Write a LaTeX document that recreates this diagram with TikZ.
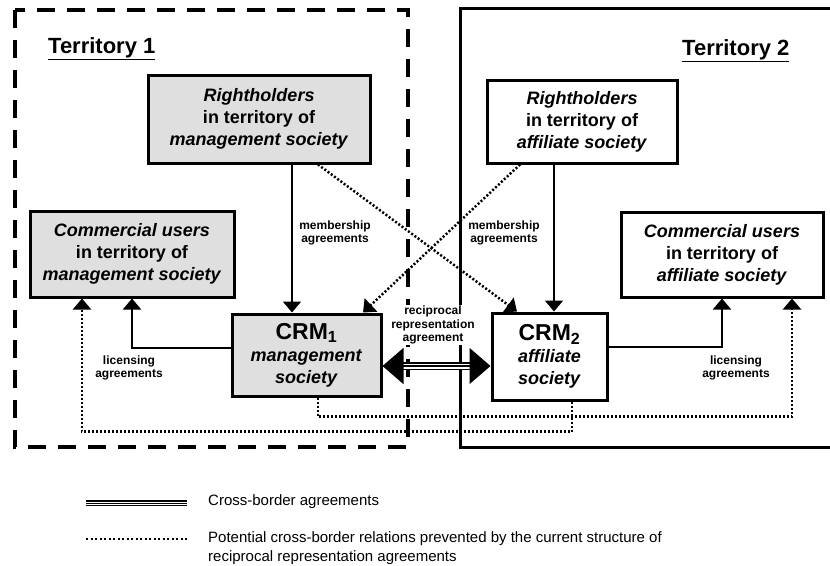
\documentclass[tikz,border=0pt]{standalone}
\usepackage{fontspec}
\setmainfont{Liberation Sans}
\usetikzlibrary{arrows.meta}

\begin{document}
\begin{tikzpicture}[
            x=1pt, y=-1pt,
            main node/.style={draw, line width=3pt, align=center, inner sep=0pt,
                font=\bfseries\fontsize{18}{22}\selectfont},
            gray node/.style={main node, fill=gray!25},
            label node/.style={align=center, inner sep=1pt,
                font=\bfseries\fontsize{12}{13.5}\selectfont},
            territory/.style={anchor=base west, inner sep=0pt,
                font=\bfseries\fontsize{22}{26}\selectfont},
            legend text/.style={anchor=base west, align=left, inner sep=0pt,
                font=\fontsize{15}{19}\selectfont},
            arrow line/.style={line width=2pt, -{Triangle[length=11pt,width=18pt]}},
            dot line/.style={line width=2.5pt, dash pattern=on 2pt off 2pt,
                -{Triangle[length=11pt,width=18pt]}},
            border line/.style={double, double distance=5pt, line width=1.2pt},
            ]
            \useasboundingbox (0,0) rectangle (830,565);

            % territories
            \draw[line width=3.5pt, dash pattern=on 18pt off 12pt] (15,10) rectangle (408,447);
            \draw[line width=3pt] (840,8) -- (460,8) -- (460,447) -- (840,447);
            \node[territory] (t1) at (48,53) {\underline{Territory 1}};
            \node[territory] (t2) at (682,55) {\underline{Territory 2}};

            % boxes
            \node[gray node, minimum width=222, minimum height=88] (rh1) at (259,119)
                {\textit{Rightholders}\\ in territory of\\ \textit{management society}};
            \node[main node, minimum width=190, minimum height=83] (rh2) at (582,121.5)
                {\textit{Rightholders}\\ in territory of\\ \textit{affiliate society}};
            \node[gray node, minimum width=204, minimum height=86] (cu1) at (132,254)
                {\textit{Commercial users}\\ in territory of\\ \textit{management society}};
            \node[main node, minimum width=202, minimum height=85] (cu2) at (722,254.5)
                {\textit{Commercial users}\\ in territory of\\ \textit{affiliate society}};
            \node[gray node, minimum width=149, minimum height=82] (crm1) at (306.5,355)
                {{\fontsize{23}{26}\selectfont CRM\textsubscript{1}}\\ \textit{management}\\ \textit{society}};
            \node[main node, minimum width=115, minimum height=87] (crm2) at (549.5,356.5)
                {{\fontsize{23}{26}\selectfont CRM\textsubscript{2}}\\ \textit{affiliate}\\ \textit{society}};

            % membership
            \coordinate (m1) at (292,0);
            \coordinate (m2) at (554,0);
            \draw[arrow line] (m1 |- rh1.south) -- (m1 |- crm1.north);
            \draw[arrow line] (m2 |- rh2.south) -- (m2 |- crm2.north);
            \node[label node] (mem1) at (335,233) {membership\\ agreements};
            \node[label node] (mem2) at (504,233) {membership\\ agreements};

            % licensing
            \draw[arrow line] ([yshift=7pt]crm1.west) -| (cu1.south);
            \draw[arrow line] ([yshift=9.5pt]crm2.east) -| (cu2.south);
            \node[label node] (lic1) at (129,368) {licensing\\ agreements};
            \node[label node] (lic2) at (736,368) {licensing\\ agreements};

            % prevented relations
            \draw[dot line] ([xshift=59pt]rh1.south) -- ([xshift=-32.5pt]crm2.north);
            \draw[dot line] ([xshift=-62pt]rh2.south) -- ([xshift=56.5pt]crm1.north);
            \draw[dot line] ([xshift=11.5pt]crm1.south) -- ++(0,19) -| ([xshift=70pt]cu2.south);
            \draw[dot line] ([xshift=22.5pt]crm2.south) -- ++(0,30) -| ([xshift=-50pt]cu1.south);

            % reciprocal agreement
            \node[label node, fill=white] (rec) at (433,325) {reciprocal\\ representation\\ agreement};
            \draw[border line, shorten <=20pt, shorten >=20pt] ([yshift=-11pt]crm1.east) -- ([yshift=-9.5pt]crm2.west);
            \draw[line width=1.2pt, {Triangle[length=21pt,width=36pt]}-{Triangle[length=21pt,width=36pt]}]
                ([yshift=-11pt]crm1.east) -- ([yshift=-9.5pt]crm2.west);

            % legend
            \coordinate (lg1a) at (86,503);
            \coordinate (lg1b) at (187,503);
            \coordinate (lg2a) at (86,539);
            \coordinate (lg2b) at (187,539);
            \draw[border line, double distance=3pt, line width=1.2pt] (lg1a) -- (lg1b);
            \draw[line width=1pt] (lg1a) -- (lg1b);
            \draw[line width=2.5pt, dash pattern=on 2pt off 2.5pt] (lg2a) -- (lg2b);
            \node[legend text] (leg1) at (208,505) {Cross-border agreements};
            \node[legend text] (leg2) at (208,561)
                {Potential cross-border relations prevented by the current structure of\\ reciprocal representation agreements};
        \end{tikzpicture}
\end{document}
